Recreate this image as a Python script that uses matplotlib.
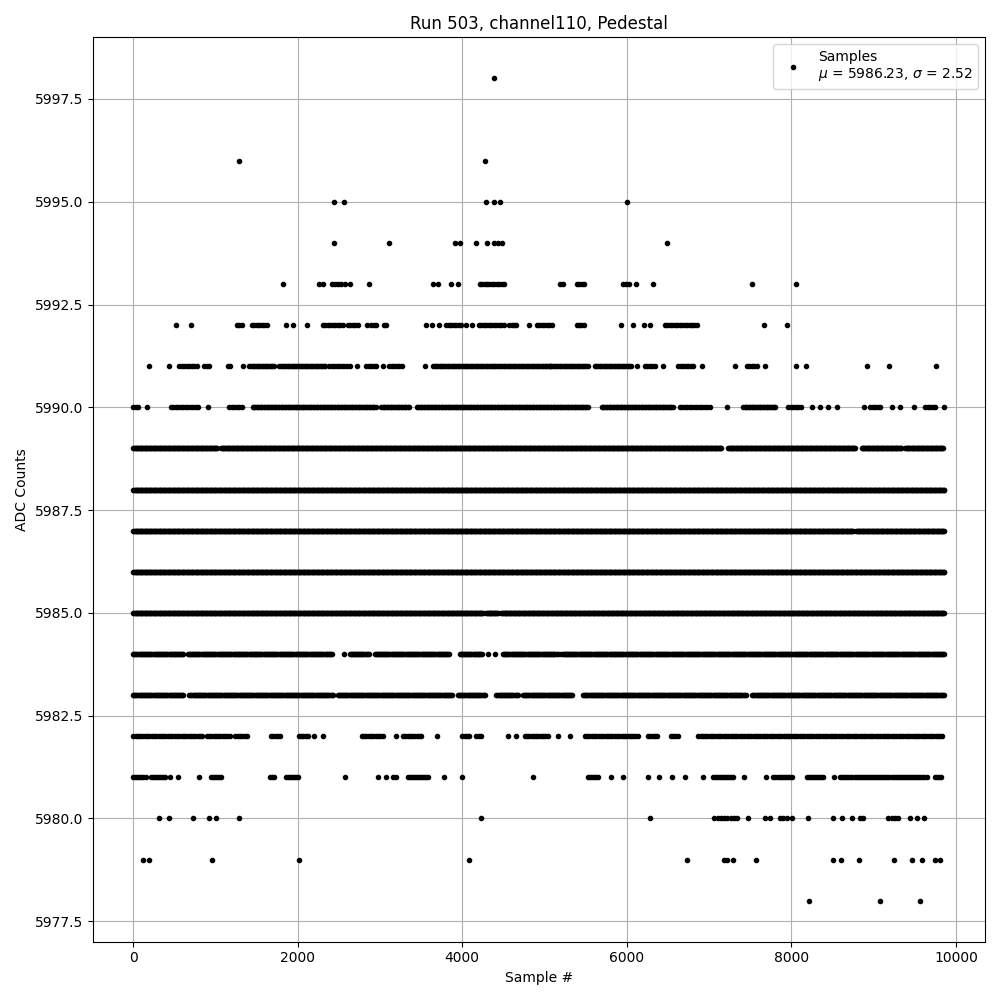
import numpy as np
import matplotlib
matplotlib.use("Agg")
import matplotlib.pyplot as plt

# ADC pedestal samples.
# runs = (first, last) sample index where a level shows a solid row of dots
# pts  = isolated samples at that level
mu = 5986.23
sigma = 2.52

pts_5998 = [4380]
pts_5996 = [1282, 4275]
pts_5995 = [2438, 2560, 4288, 4385, 4458, 6004]
pts_5994 = [2438, 3107, 3907, 3968, 4166, 4296, 4385, 4434, 4482, 6490]
pts_5993 = [1817, 2264, 2312, 2413, 2450, 2490, 2530, 2570, 2629, 2864, 3643, 3704,
            3858, 3947, 4211, 4240, 4270, 4300, 4330, 4360, 4390, 4420, 4450, 4480,
            4503, 5184, 5225, 5390, 5420, 5450, 5480, 5955, 5985, 6030, 6113, 6320,
            7525, 8060]
pts_5992 = [515, 697, 1854, 1939, 2109, 2840, 3554, 3635, 3716, 4049, 4122, 4811,
            5931, 6077, 6211, 6280, 7671, 7951]
runs_5992 = [(1257, 1330), (1444, 1635), (2304, 2568), (2608, 2742), (2893, 2954),
             (3047, 3103), (3805, 4008), (4203, 4503), (4568, 4677), (4908, 5103),
             (5388, 5489), (6462, 6868)]
pts_5991 = [186, 438, 1330, 2637, 2718, 3042, 3541, 5063, 6118, 6442, 6909, 7314,
            7679, 8056, 8178, 8924, 9188, 9760]
runs_5991 = [(560, 782), (864, 945), (1148, 1188), (2385, 2608), (2832, 2954),
             (3115, 3278), (6219, 6341), (6624, 6807), (7456, 7578)]
solid_5991 = [(1412, 1716), (1777, 2345), (3643, 5529), (5610, 6057)]
pts_5990 = [166, 904, 7221, 8247, 8349, 8450, 8559, 8884, 9221, 9322, 9492, 9860]
runs_5990 = [(0, 73), (458, 795), (1168, 1330), (6645, 7030), (7963, 8125),
             (8957, 9079), (9626, 9748)]
solid_5990 = [(1452, 2954), (3014, 3359), (3448, 5529), (5692, 6564), (7415, 7822)]
solid_5989 = [(0, 1026), (1067, 7152), (7233, 8774), (8856, 9343), (9383, 9850)]
solid_5988 = [(0, 9860)]
solid_5987 = [(0, 8753), (8786, 9860)]
solid_5986 = [(0, 9860)]
solid_5985 = [(0, 4251), (4292, 4434), (4475, 9860)]
pts_5984 = [2560, 4312, 4393]
solid_5984 = [(0, 621), (661, 2426), (2629, 2872), (2933, 3846), (3968, 4251),
              (4495, 5164), (5205, 9860)]
solid_5983 = [(0, 621), (682, 2426), (2486, 3886), (3947, 4272), (4414, 4677),
              (4738, 5346), (5468, 7456), (7525, 9860)]
pts_5982 = [2203, 2304, 3189, 3692, 4556, 4649, 5164, 5306]
runs_5982 = [(0, 843), (892, 1188), (1241, 1391), (1675, 1797), (2012, 2134),
             (2779, 3034), (3278, 3521), (4000, 4089), (4170, 4251), (4758, 5042),
             (5489, 6138), (6259, 6381), (6535, 6636), (6868, 9850)]
pts_5981 = [450, 539, 795, 2580, 2973, 3067, 3156, 3189, 3777, 3996, 4860, 5805,
            5955, 6259, 6389, 6551, 6706, 6929, 7424, 7691, 8523]
runs_5981 = [(0, 170), (215, 398), (945, 1087), (1663, 1736), (1858, 2012),
             (3339, 3602), (5529, 5671), (7042, 7313), (7781, 8024), (8186, 8409),
             (8592, 9647), (9748, 9830)]
pts_5980 = [316, 430, 722, 916, 1002, 1282, 4227, 6284, 7476, 7679, 7740, 8012,
            8207, 8511, 8612, 8734, 8836, 8876, 9436, 9525, 9606]
runs_5980 = [(7062, 7375), (7862, 7943), (9180, 9322)]
pts_5979 = [113, 186, 953, 2012, 4081, 6734, 7180, 7220, 7294, 7566, 8503, 8604,
            8827, 9253, 9464, 9586, 9748, 9809]
pts_5978 = [8219, 9073, 9565]


def expand(runs, step):
    out = []
    for a, b in runs:
        out.extend(range(a, b + 1, step))
    return out


rows = [
    (5998, pts_5998), (5996, pts_5996), (5995, pts_5995), (5994, pts_5994),
    (5993, pts_5993),
    (5992, pts_5992 + expand(runs_5992, 30)),
    (5991, pts_5991 + expand(runs_5991, 30) + expand(solid_5991, 20)),
    (5990, pts_5990 + expand(runs_5990, 30) + expand(solid_5990, 17)),
    (5989, expand(solid_5989, 10)),
    (5988, expand(solid_5988, 10)),
    (5987, expand(solid_5987, 10)),
    (5986, expand(solid_5986, 10)),
    (5985, expand(solid_5985, 10)),
    (5984, pts_5984 + expand(solid_5984, 13)),
    (5983, expand(solid_5983, 13)),
    (5982, pts_5982 + expand(runs_5982, 28)),
    (5981, pts_5981 + expand(runs_5981, 25)),
    (5980, pts_5980 + expand(runs_5980, 40)),
    (5979, pts_5979), (5978, pts_5978),
]

x = []
y = []
for level, xs in rows:
    x.extend(xs)
    y.extend([level] * len(xs))

plt.figure(figsize=(10, 10))
plt.plot(x, y, '.', color='black',
         label="Samples\n$\\mu$ = %.2f, $\\sigma$ = %.2f" % (mu, sigma))
plt.title("Run 503, channel110, Pedestal")
plt.xlabel("Sample #")
plt.ylabel("ADC Counts")
plt.legend(loc='upper right')
plt.grid(True)
plt.tight_layout()
plt.savefig("out.png", dpi=100)
